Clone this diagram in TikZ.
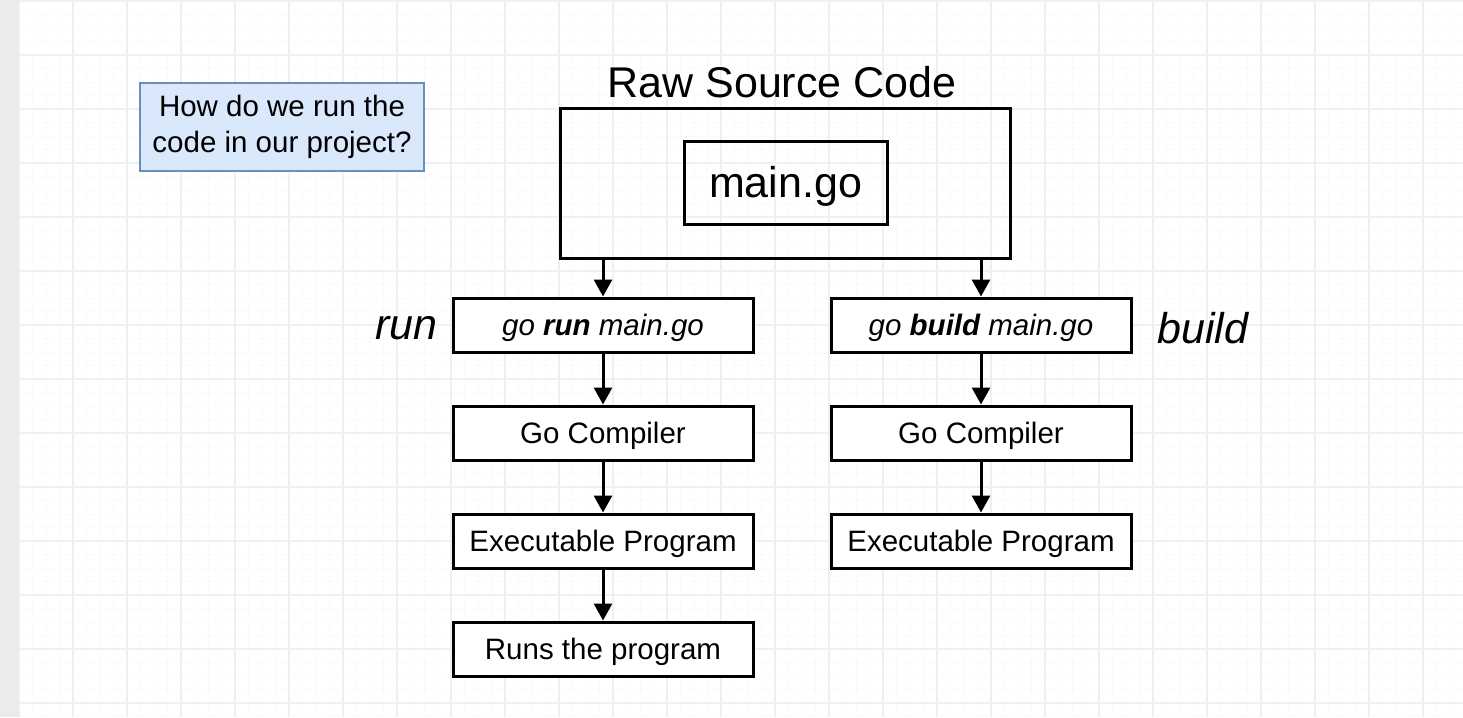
\documentclass[tikz,border=0pt]{standalone}
\usepackage{fontspec}
\setmainfont{Liberation Sans}
\usetikzlibrary{arrows.meta}
\definecolor{bluefill}{HTML}{DAE8FC}
\definecolor{blueline}{HTML}{6C8EBF}
\definecolor{gridmajor}{HTML}{F0F0F0}
\definecolor{gridminor}{HTML}{F8F8F8}
\definecolor{strip}{HTML}{EBEBEB}
\begin{document}
\begin{tikzpicture}[x=1pt,y=-1pt,
  flowbox/.style={draw=black,line width=3pt,fill=white,minimum width=300pt,minimum height=54pt,inner sep=0pt,text height=27pt,text depth=5.9pt,font=\fontsize{29.5}{34}\selectfont},
  flowarrow/.style={line width=3pt,-{Triangle[length=17pt,width=18pt]}},
  sidelabel/.style={font=\fontsize{43}{50}\selectfont\itshape}]
\useasboundingbox (0,0) rectangle (1463,717);
\fill[white] (0,0) rectangle (1463,717);
\fill[strip] (0,0) rectangle (19,717);
% minor grid
\foreach \i in {0,...,107} {\draw[gridminor,line width=0.6pt,dash pattern=on 1.5pt off 1.5pt] (19+13.5*\i,0) -- (19+13.5*\i,717);}
\foreach \j in {0,...,53} {\draw[gridminor,line width=0.6pt,dash pattern=on 1.5pt off 1.5pt] (19,1+13.5*\j) -- (1463,1+13.5*\j);}
% major grid
\foreach \i in {1,...,26} {\draw[gridmajor,line width=1.1pt] (19+54*\i,0) -- (19+54*\i,717);}
\foreach \j in {0,...,13} {\draw[gridmajor,line width=1.1pt] (19,1+54*\j) -- (1463,1+54*\j);}
\draw[gridmajor,line width=1pt] (19.5,0) -- (19.5,717);

% question box
\node[draw=blueline,fill=bluefill,line width=2.2pt,minimum width=284pt,minimum height=88pt,align=center,inner sep=0pt,font=\fontsize{29.5}{36}\selectfont] (q) at (282,127) {How do we run the\\code in our project?};

% source
\node[draw=black,line width=3pt,minimum width=450pt,minimum height=150pt,inner sep=0pt] (src) at (785,183) {};
\node[font=\fontsize{43}{50}\selectfont,anchor=base] (title) at (782,97) {Raw Source Code};
\node[draw=black,line width=3pt,minimum width=203pt,minimum height=83pt,inner sep=0pt,text height=38pt,text depth=7.2pt,font=\fontsize{43}{50}\selectfont] (main) at (785.5,182.5) {main.go};

% run column
\node[flowbox] (r1) at (603,325) {\itshape go \textbf{run} main.go};
\node[flowbox] (r2) at (603,433) {Go Compiler};
\node[flowbox] (r3) at (603,541) {Executable Program};
\node[flowbox] (r4) at (603,649) {Runs the program};
% build column
\node[flowbox] (b1) at (981,325) {\itshape go \textbf{build} main.go};
\node[flowbox] (b2) at (981,433) {Go Compiler};
\node[flowbox] (b3) at (981,541) {Executable Program};

\node[sidelabel,anchor=east] (runlbl) at (441,328) {run};
\node[sidelabel,anchor=west] (buildlbl) at (1154,328) {build};

\coordinate (sa) at (603,258);
\coordinate (sb) at (981,258);
\draw[flowarrow] (sa) -- (r1.north);
\draw[flowarrow] (sb) -- (b1.north);
\draw[flowarrow] (r1) -- (r2);
\draw[flowarrow] (r2) -- (r3);
\draw[flowarrow] (r3) -- (r4);
\draw[flowarrow] (b1) -- (b2);
\draw[flowarrow] (b2) -- (b3);
\end{tikzpicture}
\end{document}
